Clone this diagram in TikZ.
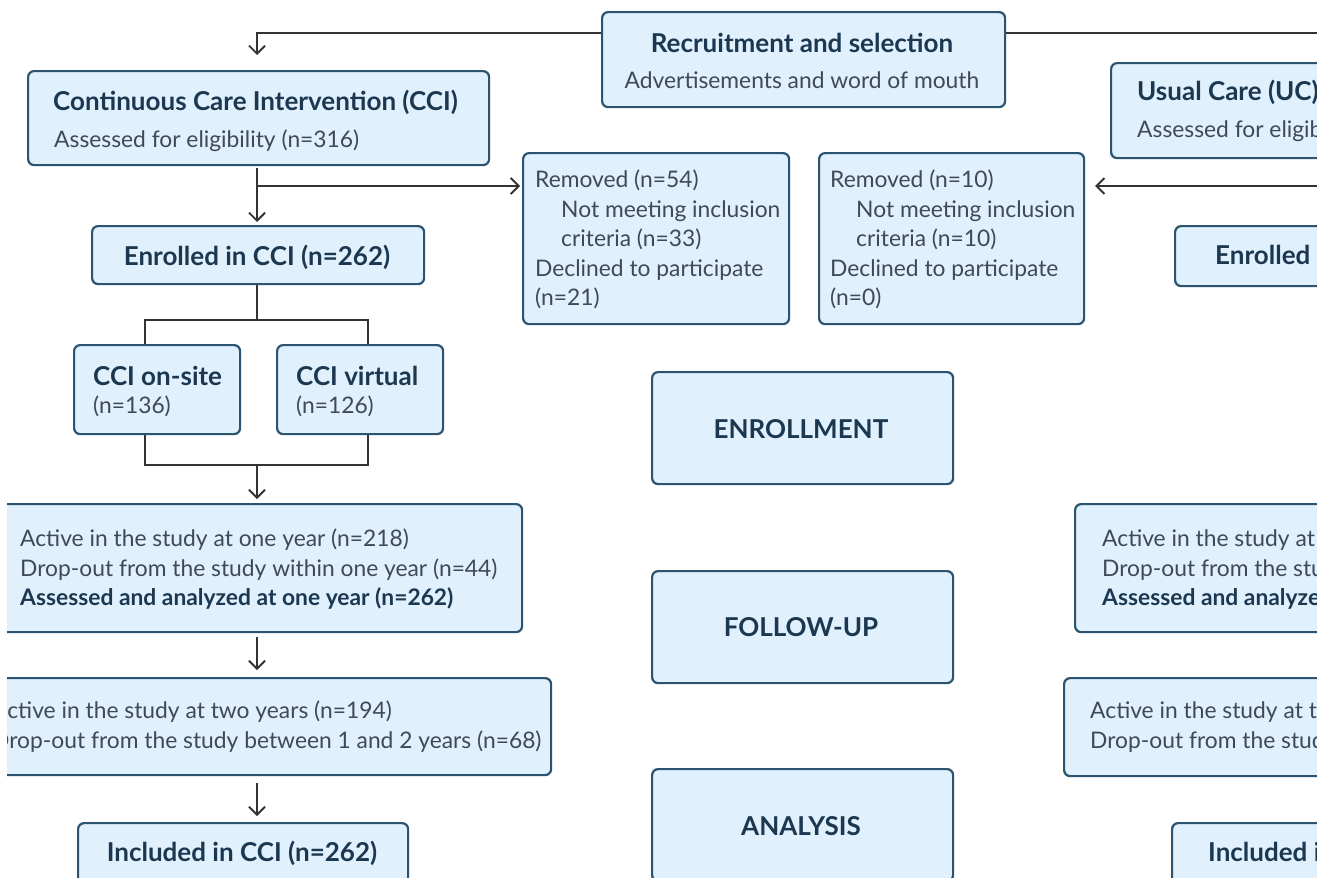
\documentclass[tikz,border=0pt]{standalone}
\usepackage{fontspec}
\setmainfont{Lato}
\usetikzlibrary{arrows.meta}
\definecolor{boxfill}{HTML}{E0F0FD}
\definecolor{boxline}{HTML}{2C5470}
\definecolor{titlecol}{HTML}{1C3850}
\definecolor{bodycol}{HTML}{3E4A55}
\definecolor{arrowcol}{HTML}{333333}
\begin{document}
\begin{tikzpicture}[x=1pt,y=-1pt,
 box/.style={draw=boxline, fill=boxfill, line width=2.2pt, rounded corners=6pt, inner sep=0pt, anchor=north west},
 ttl/.style={font=\fontsize{26}{30}\selectfont\bfseries, text=titlecol, inner sep=0pt, anchor=base west},
 txt/.style={font=\fontsize{22.8}{27}\selectfont, text=bodycol, inner sep=0pt, anchor=base west},
 txtb/.style={font=\fontsize{22.8}{27}\selectfont\bfseries, text=titlecol, inner sep=0pt, anchor=base west},
 conn/.style={draw=arrowcol, line width=1.8pt},
 arr/.style={conn, -{Straight Barb[length=8pt,width=16pt,line width=1.8pt]}}
]
\useasboundingbox (0,0) rectangle (1317,878);
\fill[white] (0,0) rectangle (1317,878);
\clip (7,0) rectangle (1317,878);

% boxes
\node[box, minimum width=403, minimum height=95] (rec) at (601,11) {};
\node[box, minimum width=461, minimum height=94] (cci) at (27,70) {};
\node[box, minimum width=332, minimum height=58] (enr) at (91,225) {};
\node[box, minimum width=166, minimum height=89] (onsite) at (73,344) {};
\node[box, minimum width=166, minimum height=89] (virt) at (276,344) {};
\node[box, minimum width=551, minimum height=128] (act1) at (-30,503) {};
\node[box, minimum width=580, minimum height=97] (act2) at (-30,677) {};
\node[box, minimum width=330, minimum height=80] (incl) at (77,822) {};
\node[box, minimum width=266, minimum height=171] (rem1) at (522,152) {};
\node[box, minimum width=265, minimum height=171] (rem2) at (818,152) {};
\node[box, minimum width=260, minimum height=95] (uc) at (1110,62) {};
\node[box, minimum width=200, minimum height=60] (ucenr) at (1174,225) {};
\node[box, minimum width=301, minimum height=112] (enroll) at (651,371) {};
\node[box, minimum width=301, minimum height=112] (follow) at (651,570) {};
\node[box, minimum width=301, minimum height=112] (analysis) at (651,768) {};
\node[box, minimum width=300, minimum height=128] (ract1) at (1074,503) {};
\node[box, minimum width=300, minimum height=98] (ract2) at (1063,677) {};
\node[box, minimum width=200, minimum height=80] (rincl) at (1171,822) {};

% texts
\node[ttl, anchor=base] (t1) at (802,52) {Recruitment and selection};
\node[txt, anchor=base] (t2) at (802,88) {Advertisements and word of mouth};
\node[ttl] (t3) at (53,110) {Continuous Care Intervention (CCI)};
\node[txt] (t4) at (54,147) {Assessed for eligibility (n=316)};
\node[ttl, anchor=base] (t5) at (257,265) {Enrolled in CCI (n=262)};
\node[ttl] (t6) at (93,385) {CCI on-site};
\node[txt] (t7) at (93,413) {(n=136)};
\node[ttl] (t8) at (296,385) {CCI virtual};
\node[txt] (t9) at (296,413) {(n=126)};
\node[txt] (t10) at (20,546) {Active in the study at one year (n=218)};
\node[txt] (t11) at (20,576) {Drop-out from the study within one year (n=44)};
\node[txtb] (t12) at (20,605) {Assessed and analyzed at one year (n=262)};
\node[txt] (t13) at (-8,718) {Active in the study at two years (n=194)};
\node[txt] (t14) at (-8,748) {Drop-out from the study between 1 and 2 years (n=68)};
\node[ttl, anchor=base] (t15) at (242,861) {Included in CCI (n=262)};
\node[txt] (t16) at (535,187) {Removed (n=54)};
\node[txt] (t17) at (561,217) {Not meeting inclusion};
\node[txt] (t18) at (561,246) {criteria (n=33)};
\node[txt] (t19) at (535,276) {Declined to participate};
\node[txt] (t20) at (535,305) {(n=21)};
\node[txt] (t21) at (830,187) {Removed (n=10)};
\node[txt] (t22) at (856,217) {Not meeting inclusion};
\node[txt] (t23) at (856,246) {criteria (n=10)};
\node[txt] (t24) at (830,276) {Declined to participate};
\node[txt] (t25) at (830,305) {(n=0)};
\node[ttl] (t26) at (1137,100) {Usual Care (UC)};
\node[txt] (t27) at (1137,137) {Assessed for eligibility};
\node[ttl] (t28) at (1215,264) {Enrolled in UC};
\node[ttl, anchor=base] (t29) at (801,438) {ENROLLMENT};
\node[ttl, anchor=base] (t30) at (801,636) {FOLLOW-UP};
\node[ttl, anchor=base] (t31) at (801,835) {ANALYSIS};
\node[txt] (t32) at (1102,546) {Active in the study at one year};
\node[txt] (t33) at (1102,576) {Drop-out from the study within one year};
\node[txtb] (t34) at (1102,605) {Assessed and analyzed at one year};
\node[txt] (t35) at (1090,718) {Active in the study at two years};
\node[txt] (t36) at (1090,748) {Drop-out from the study between 1 and 2 years};
\node[ttl] (t37) at (1208,861) {Included in UC};

% connectors
\coordinate (recL) at ([yshift=-22pt]rec.north west);
\coordinate (recR) at ([yshift=-22pt]rec.north east);
\coordinate (ucTop) at (1340,33);
\coordinate (xcol) at (257,0);
\draw[arr, shorten >=15pt] (recL) -| (xcol |- cci.north);
\draw[conn] (recR) -- (ucTop);
\draw[arr, shorten <=2pt, shorten >=3pt] (xcol |- cci.south) -- (xcol |- enr.north);
\coordinate (rem1in) at ([yshift=-34pt]rem1.north west);
\coordinate (rem2in) at ([yshift=-34pt]rem2.north east);
\coordinate (ucSide) at (1340,186);
\draw[arr, shorten >=2pt] (xcol |- rem1in) -- (rem1in);
\draw[arr, shorten >=10pt] (ucSide |- rem2in) -- (rem2in);
\coordinate (sL) at (145,320);
\coordinate (sR) at (368,320);
\draw[conn] (xcol |- enr.south) -- (xcol |- sL);
\draw[conn] (sL |- onsite.north) -- (sL) -- (sR) -- (sR |- virt.north);
\coordinate (mL) at (145,465);
\coordinate (mR) at (368,465);
\draw[conn] (mL |- onsite.south) -- (mL) -- (mR) -- (mR |- virt.south);
\draw[arr, shorten >=4pt] (xcol |- mL) -- (xcol |- act1.north);
\draw[arr, shorten <=4pt, shorten >=7pt] (xcol |- act1.south) -- (xcol |- act2.north);
\draw[arr, shorten <=7pt, shorten >=6pt] (xcol |- act2.south) -- (xcol |- incl.north);
\end{tikzpicture}
\end{document}
